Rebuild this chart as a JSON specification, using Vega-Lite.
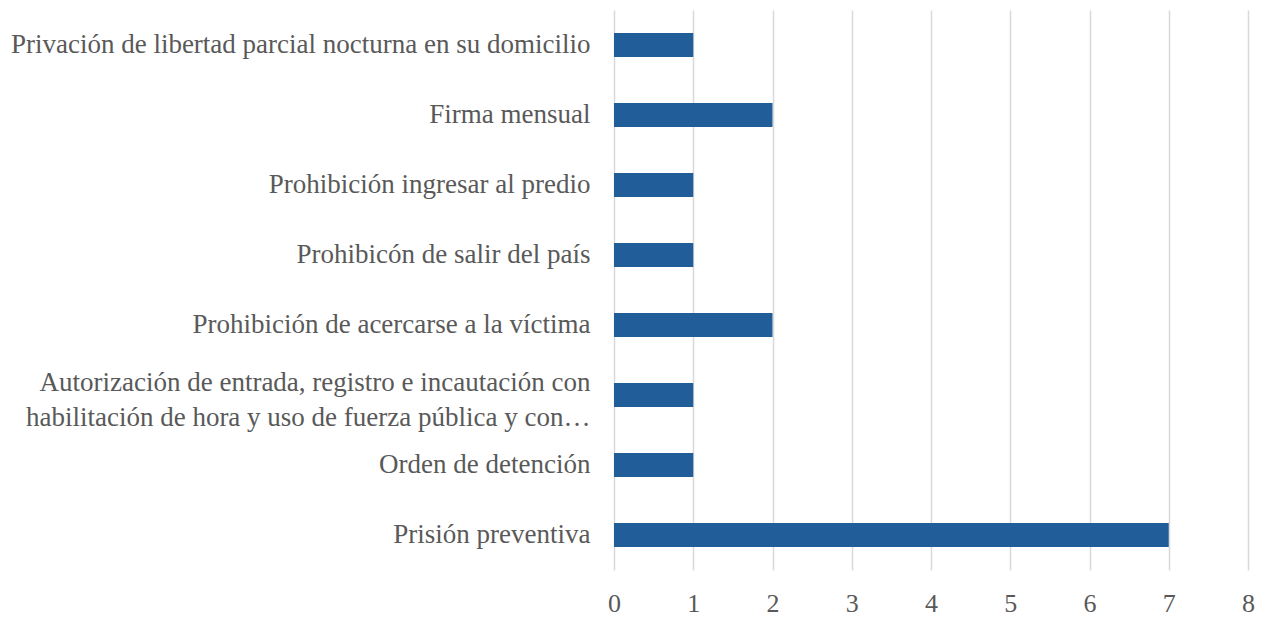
{
  "$schema": "https://vega.github.io/schema/vega-lite/v6.json",
  "width": 634,
  "height": 560,
  "padding": {"left": 10, "top": 10, "right": 10, "bottom": 0},
  "background": "white",
  "config": {
    "view": {"stroke": null},
    "font": "Liberation Serif",
    "axis": {"labelFont": "Liberation Serif", "labelColor": "#595959", "labelFontSize": 27}
  },
  "data": {
    "values": [
      {"medida": "Privación de libertad parcial nocturna en su domicilio", "n": 1},
      {"medida": "Firma mensual", "n": 2},
      {"medida": "Prohibición ingresar al predio", "n": 1},
      {"medida": "Prohibicón de salir del país", "n": 1},
      {"medida": "Prohibición de acercarse a la víctima", "n": 2},
      {"medida": "Autorización de entrada, registro e incautación con|habilitación de hora y uso de fuerza pública y con…", "n": 1},
      {"medida": "Orden de detención", "n": 1},
      {"medida": "Prisión preventiva", "n": 7}
    ]
  },
  "mark": {"type": "bar", "color": "#205d99"},
  "encoding": {
    "y": {
      "field": "medida", "type": "nominal", "sort": null,
      "scale": {"paddingInner": 0.66, "paddingOuter": 0.33},
      "axis": {"title": null, "ticks": false, "domain": false, "labelPadding": 24, "labelLimit": 700,
               "labelExpr": "split(datum.label, '|')", "labelLineHeight": 35,
               "labelOffset": {"condition": {"test": "indexof(datum.value, '|') >= 0", "value": -12}, "value": 0}}
    },
    "x": {
      "field": "n", "type": "quantitative",
      "scale": {"domain": [0, 8]},
      "axis": {"title": null, "values": [0,1,2,3,4,5,6,7,8], "ticks": false, "domain": false,
               "labelOverlap": false, "labelFlush": false, "labelFontSize": 26,
               "grid": true, "gridColor": "#d9d9d9", "gridWidth": 1.5, "labelPadding": 20}
    }
  }
}
